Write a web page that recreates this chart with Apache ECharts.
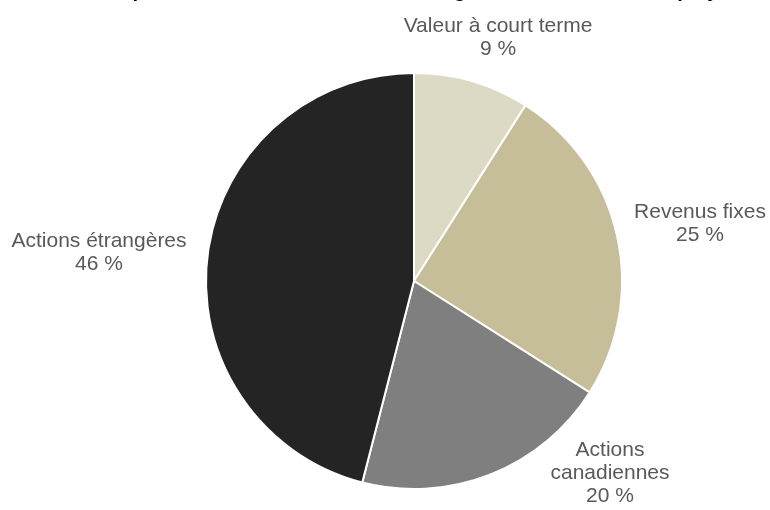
<!DOCTYPE html>
<html>
<head>
<meta charset="utf-8">
<script src="https://cdn.jsdelivr.net/npm/echarts@6/dist/echarts.min.js"></script>
<style>
  html, body { margin: 0; padding: 0; background: #ffffff; }
  #chart { width: 770px; height: 510px; }
</style>
</head>
<body>
<div id="chart"></div>
<script>
// Asset allocation, clockwise from 12 o'clock
const categories = ['Valeur à court terme', 'Revenus fixes', 'Actions canadiennes', 'Actions étrangères'];
const labelNames = ['Valeur à court terme', 'Revenus fixes', 'Actions\ncanadiennes', 'Actions étrangères'];
const shares = [9, 25, 20, 46];
const sliceColors = ['#dcd9c4', '#c5be98', '#7f7f7f', '#242424'];

// Where each slice label sits (label centre, in px)
const labelSpots = [[498, 38], [700, 224], [610, 473], [99, 253]];

const chart = echarts.init(document.getElementById('chart'), null, { renderer: 'canvas' });

chart.setOption({
  animation: false,
  backgroundColor: '#ffffff',
  title: {
    text: 'Répartition des actifs du fonds de régime de retraite des employés',
    left: 107,
    top: -19,
    padding: 0,
    textStyle: {
      fontFamily: 'Liberation Sans, Arial, sans-serif',
      fontSize: 20,
      fontWeight: 'bold',
      color: '#000000'
    }
  },
  series: [{
    type: 'pie',
    center: [414, 281],
    radius: [0, 208],
    startAngle: 90,
    clockwise: true,
    avoidLabelOverlap: false,
    itemStyle: { borderColor: '#ffffff', borderWidth: 2 },
    label: {
      show: true,
      position: 'outside',
      fontFamily: 'Liberation Sans, Arial, sans-serif',
      fontSize: 21,
      lineHeight: 23,
      color: '#595959',
      align: 'center',
      formatter: p => labelNames[p.dataIndex] + '\n' + p.value + ' %'
    },
    labelLine: { show: false },
    labelLayout: p => ({
      x: labelSpots[p.dataIndex][0],
      y: labelSpots[p.dataIndex][1],
      align: 'center',
      verticalAlign: 'middle'
    }),
    data: categories.map((c, i) => ({
      name: c,
      value: shares[i],
      itemStyle: { color: sliceColors[i] }
    }))
  }]
});
</script>
</body>
</html>
